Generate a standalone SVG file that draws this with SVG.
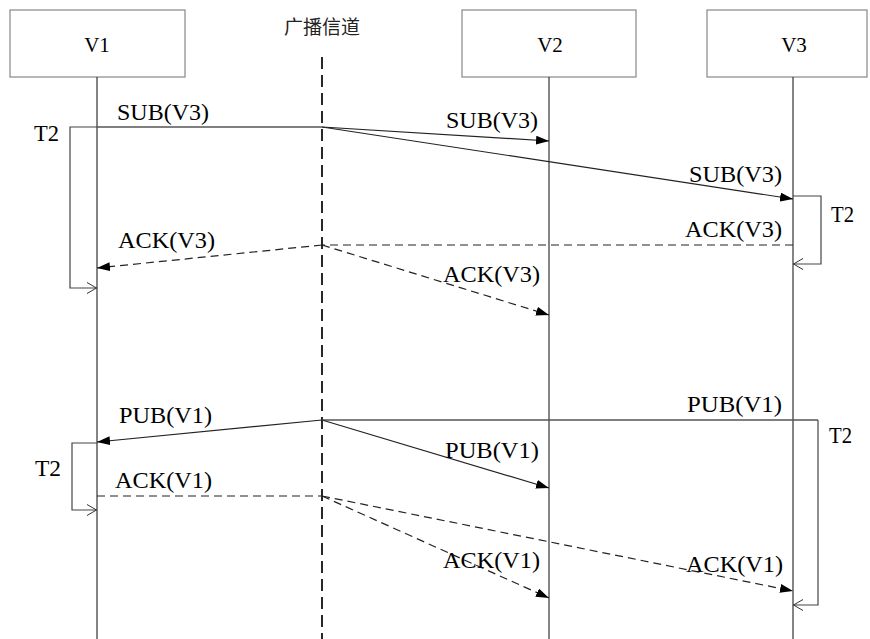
<svg xmlns="http://www.w3.org/2000/svg" width="870" height="639" viewBox="0 0 870 639">
<style>
.box{fill:#fff;stroke:#888;stroke-width:1.2}
.life{stroke:#333;stroke-width:1.2;fill:none}
.chan{stroke:#111;stroke-width:1.8;stroke-dasharray:12,6;fill:none}
.ln{stroke:#222;stroke-width:1.2;fill:none}
.hl{stroke:#555;stroke-width:1.3;fill:none}
.dl{stroke:#222;stroke-width:1.2;stroke-dasharray:8,5;fill:none}
.br{stroke:#444;stroke-width:1.2;fill:none}
.t{font-family:"Liberation Serif","Times New Roman",serif;font-size:22.5px;fill:#000}
.n{font-family:"Liberation Serif","Times New Roman",serif;font-size:21px;fill:#000;text-anchor:middle}
.cn{font-family:"Liberation Serif","Noto Sans CJK SC",serif;font-size:19px;fill:#222;text-anchor:middle}
</style>
<defs>
<marker id="fa" viewBox="0 0 13 9" refX="13" refY="4.5" markerWidth="13" markerHeight="9" orient="auto" markerUnits="userSpaceOnUse"><path d="M0,0 L13,4.5 L0,9 z" fill="#000"/></marker>
<marker id="oa" viewBox="0 0 10 12" refX="10" refY="6" markerWidth="10" markerHeight="12" orient="auto" markerUnits="userSpaceOnUse"><path d="M0,0.5 L9.5,6 L0,11.5" fill="none" stroke="#333" stroke-width="1"/></marker>
</defs>
<rect width="870" height="639" fill="#fff"/>
<g id="V1"><rect class="box" x="10" y="10" width="175" height="67"/><text class="n" x="97" y="52">V1</text><line class="life" x1="97" y1="77" x2="97" y2="639"/></g>
<g id="channel"><text class="cn" x="322" y="34">广播信道</text><line class="chan" x1="322" y1="57" x2="322" y2="639"/></g>
<g id="V2"><rect class="box" x="462" y="10" width="174" height="67"/><text class="n" x="550" y="52">V2</text><line class="life" x1="549" y1="77" x2="549" y2="639"/></g>
<g id="V3"><rect class="box" x="707" y="10" width="160" height="67"/><text class="n" x="794" y="52">V3</text><line class="life" x1="793" y1="77" x2="793" y2="639"/></g>
<g id="connectors">
<line class="hl" x1="97" y1="127" x2="322" y2="127"/>
<line class="ln" x1="322" y1="127" x2="549" y2="141" marker-end="url(#fa)"/>
<line class="ln" x1="322" y1="127" x2="793" y2="199" marker-end="url(#fa)"/>
<polyline class="br" points="97,127 70,127 70,288 97,288" marker-end="url(#oa)"/>
<polyline class="br" points="793,196 821,196 821,264 793,264" marker-end="url(#oa)"/>
<line class="dl" x1="793" y1="245" x2="322" y2="245"/>
<line class="dl" x1="322" y1="245" x2="97" y2="268" marker-end="url(#fa)"/>
<line class="dl" x1="322" y1="245" x2="549" y2="315" marker-end="url(#fa)"/>
<line class="hl" x1="322" y1="420" x2="818" y2="420"/>
<polyline class="br" points="818,420 818,605 793,605" marker-end="url(#oa)"/>
<line class="ln" x1="322" y1="420" x2="97" y2="442" marker-end="url(#fa)"/>
<line class="ln" x1="322" y1="420" x2="549" y2="488" marker-end="url(#fa)"/>
<polyline class="br" points="97,443 72,443 72,510 97,510" marker-end="url(#oa)"/>
<line class="dl" x1="97" y1="496" x2="322" y2="496"/>
<line class="dl" x1="322" y1="496" x2="549" y2="598" marker-end="url(#fa)"/>
<line class="dl" x1="322" y1="496" x2="793" y2="591" marker-end="url(#fa)"/>
</g>
<g id="labels">
<text class="t" x="117" y="120" textLength="92" lengthAdjust="spacingAndGlyphs">SUB(V3)</text>
<text class="t" x="446" y="128" textLength="92" lengthAdjust="spacingAndGlyphs">SUB(V3)</text>
<text class="t" x="689" y="182" textLength="93" lengthAdjust="spacingAndGlyphs">SUB(V3)</text>
<text class="t" x="34" y="141" textLength="25" lengthAdjust="spacingAndGlyphs">T2</text>
<text class="t" x="831" y="222" textLength="23" lengthAdjust="spacingAndGlyphs">T2</text>
<text class="t" x="685" y="237" textLength="97" lengthAdjust="spacingAndGlyphs">ACK(V3)</text>
<text class="t" x="118" y="248" textLength="97" lengthAdjust="spacingAndGlyphs">ACK(V3)</text>
<text class="t" x="443" y="282" textLength="97" lengthAdjust="spacingAndGlyphs">ACK(V3)</text>
<text class="t" x="119" y="423" textLength="93" lengthAdjust="spacingAndGlyphs">PUB(V1)</text>
<text class="t" x="687" y="412" textLength="95" lengthAdjust="spacingAndGlyphs">PUB(V1)</text>
<text class="t" x="829" y="443" textLength="23" lengthAdjust="spacingAndGlyphs">T2</text>
<text class="t" x="445" y="458" textLength="94" lengthAdjust="spacingAndGlyphs">PUB(V1)</text>
<text class="t" x="35" y="476" textLength="26" lengthAdjust="spacingAndGlyphs">T2</text>
<text class="t" x="115" y="488" textLength="97" lengthAdjust="spacingAndGlyphs">ACK(V1)</text>
<text class="t" x="443" y="568" textLength="97" lengthAdjust="spacingAndGlyphs">ACK(V1)</text>
<text class="t" x="686" y="572" textLength="97" lengthAdjust="spacingAndGlyphs">ACK(V1)</text>
</g>
</svg>
